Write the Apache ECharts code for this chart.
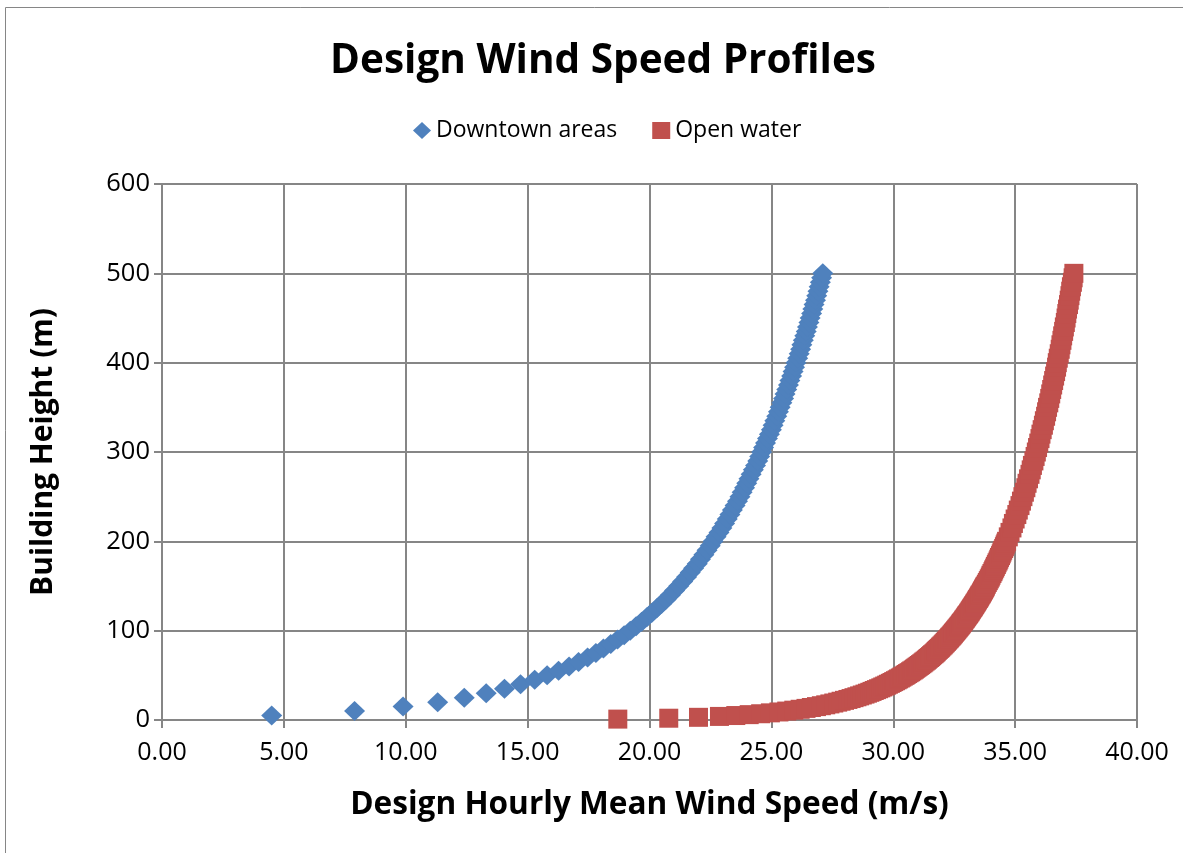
<!DOCTYPE html>
<html>
<head>
<meta charset="utf-8">
<script src="https://cdn.jsdelivr.net/npm/echarts@6/dist/echarts.min.js"></script>
<style>
html,body{margin:0;padding:0;background:#fff;}
#chart{width:1183px;height:853px;}
</style>
</head>
<body>
<div id="chart"></div>
<script>
// Downtown areas: building height (m) and design hourly mean wind speed (m/s)
var downtownHeights = [5,10,15,20,25,30,35,40,45,50,55,60,65,70,75,80,85,90,95,100,
  105,110,115,120,125,130,135,140,145,150,155,160,165,170,175,180,185,190,195,200,
  205,210,215,220,225,230,235,240,245,250,255,260,265,270,275,280,285,290,295,300,
  305,310,315,320,325,330,335,340,345,350,355,360,365,370,375,380,385,390,395,400,
  405,410,415,420,425,430,435,440,445,450,455,460,465,470,475,480,485,490,495,500];
var downtownSpeeds = [4.50,7.90,9.89,11.31,12.40,13.30,14.05,14.71,15.29,15.80,
  16.27,16.70,17.09,17.46,17.80,18.11,18.41,18.69,18.96,19.21,
  19.45,19.68,19.89,20.10,20.30,20.50,20.68,20.86,21.03,21.20,
  21.36,21.52,21.67,21.81,21.96,22.09,22.23,22.36,22.49,22.61,
  22.73,22.85,22.97,23.08,23.19,23.30,23.40,23.51,23.61,23.71,
  23.80,23.90,23.99,24.08,24.17,24.26,24.35,24.44,24.52,24.60,
  24.68,24.76,24.84,24.92,25.00,25.07,25.14,25.22,25.29,25.36,
  25.43,25.50,25.56,25.63,25.70,25.76,25.83,25.89,25.95,26.01,
  26.08,26.14,26.20,26.25,26.31,26.37,26.43,26.48,26.54,26.59,
  26.65,26.70,26.75,26.81,26.86,26.91,26.96,27.01,27.06,27.11];

// Open water
var openWaterHeights = [1,2,3,4,5,6,7,8,9,10,11,12,13,14,15,16,17,18,19,20,
  21,22,23,24,25,26,27,28,29,30,31,32,33,34,35,36,37,38,39,40,
  41,42,43,44,45,46,47,48,49,50,51,52,53,54,55,56,57,58,59,60,
  61,62,63,64,65,66,67,68,69,70,71,72,73,74,75,76,77,78,79,80,
  81,82,83,84,85,86,87,88,89,90,91,92,93,94,95,96,97,98,99,100,
  101,102,103,104,105,106,107,108,109,110,111,112,113,114,115,116,117,118,119,120,
  121,122,123,124,125,126,127,128,129,130,131,132,133,134,135,136,137,138,139,140,
  141,142,143,144,145,146,147,148,149,150,
  152,154,156,158,160,162,164,166,168,170,172,174,176,178,180,
  182,184,186,188,190,192,194,196,198,200,
  205,210,215,220,225,230,235,240,245,250,255,260,265,270,275,280,285,290,295,300,
  305,310,315,320,325,330,335,340,345,350,355,360,365,370,375,380,385,390,395,400,
  405,410,415,420,425,430,435,440,445,450,455,460,465,470,475,480,485,490,495,500];
var openWaterSpeeds = [18.70,20.79,22.01,22.87,23.54,24.09,24.56,24.96,25.31,25.63,
  25.92,26.18,26.42,26.64,26.85,27.05,27.23,27.40,27.56,27.72,
  27.86,28.00,28.14,28.27,28.39,28.51,28.62,28.73,28.84,28.94,
  29.04,29.13,29.22,29.31,29.40,29.49,29.57,29.65,29.73,29.80,
  29.88,29.95,30.02,30.09,30.16,30.22,30.29,30.35,30.41,30.48,
  30.53,30.59,30.65,30.71,30.76,30.82,30.87,30.92,30.97,31.02,
  31.07,31.12,31.17,31.22,31.26,31.31,31.36,31.40,31.44,31.49,
  31.53,31.57,31.61,31.66,31.70,31.74,31.77,31.81,31.85,31.89,
  31.93,31.96,32.00,32.04,32.07,32.11,32.14,32.18,32.21,32.24,
  32.28,32.31,32.34,32.38,32.41,32.44,32.47,32.50,32.53,32.56,
  32.59,32.62,32.65,32.68,32.71,32.74,32.77,32.79,32.82,32.85,
  32.88,32.90,32.93,32.96,32.98,33.01,33.03,33.06,33.09,33.11,
  33.14,33.16,33.18,33.21,33.23,33.26,33.28,33.30,33.33,33.35,
  33.37,33.40,33.42,33.44,33.46,33.49,33.51,33.53,33.55,33.57,
  33.60,33.62,33.64,33.66,33.68,33.70,33.72,33.74,33.76,33.78,
  33.82,33.86,33.90,33.94,33.98,34.01,34.05,34.09,34.12,34.16,34.19,34.23,34.26,34.30,34.33,
  34.36,34.40,34.43,34.46,34.49,34.53,34.56,34.59,34.62,34.65,
  34.72,34.79,34.87,34.93,35.00,35.07,35.13,35.20,35.26,35.32,
  35.38,35.44,35.49,35.55,35.61,35.66,35.71,35.77,35.82,35.87,
  35.92,35.97,36.02,36.06,36.11,36.16,36.20,36.25,36.29,36.33,
  36.38,36.42,36.46,36.50,36.54,36.58,36.62,36.66,36.70,36.73,
  36.77,36.81,36.85,36.88,36.92,36.95,36.99,37.02,37.06,37.09,
  37.12,37.15,37.19,37.22,37.25,37.28,37.31,37.35,37.38,37.41];

var seriesNames = ['Downtown areas', 'Open water'];
var titleText = 'Design Wind Speed Profiles';
var xAxisTitle = 'Design Hourly Mean Wind Speed (m/s)';
var yAxisTitle = 'Building Height (m)';

function pairs(xs, ys) {
  var out = [];
  for (var i = 0; i < xs.length; i++) out.push([xs[i], ys[i]]);
  return out;
}

var FONT = '"Open Sans", "DejaVu Sans", sans-serif';
var GRID = '#868686';

var chart = echarts.init(document.getElementById('chart'), null, {renderer: 'canvas'});
chart.setOption({
  backgroundColor: '#ffffff',
  animation: false,
  graphic: [{
    type: 'rect',
    shape: {x: 5.5, y: 7.5, width: 1300, height: 1000},
    style: {fill: 'none', stroke: '#868686', lineWidth: 1},
    silent: true
  }],
  title: {
    text: titleText,
    left: 325,
    top: 36,
    textStyle: {fontFamily: FONT, fontWeight: 'bold', fontSize: 40.5, color: '#000'}
  },
  legend: {
    data: [
      {name: seriesNames[0], icon: 'diamond'},
      {name: seriesNames[1], icon: 'rect'}
    ],
    top: 114,
    left: 408,
    itemWidth: 18,
    itemHeight: 17,
    itemGap: 35,
    textStyle: {fontFamily: FONT, fontSize: 23, color: '#000'}
  },
  grid: {left: 162, right: 46, top: 184, bottom: 133, containLabel: false},
  xAxis: {
    type: 'value',
    min: 0, max: 40, interval: 5,
    name: xAxisTitle,
    nameLocation: 'middle',
    nameGap: 69,
    nameTextStyle: {fontFamily: FONT, fontWeight: 'bold', fontSize: 31.6, color: '#000'},
    axisLine: {show: true, onZero: false, lineStyle: {color: GRID, width: 2}},
    axisTick: {show: true, inside: false, length: 8, lineStyle: {color: GRID, width: 2}},
    axisLabel: {fontFamily: FONT, fontSize: 25, color: '#000', margin: 20,
      formatter: function (v) { return v.toFixed(2); }},
    splitLine: {show: true, lineStyle: {color: GRID, width: 2}}
  },
  yAxis: {
    type: 'value',
    min: 0, max: 600, interval: 100,
    name: yAxisTitle,
    nameLocation: 'middle',
    nameGap: 104,
    nameTextStyle: {fontFamily: FONT, fontWeight: 'bold', fontSize: 30, color: '#000'},
    axisLine: {show: true, lineStyle: {color: GRID, width: 2}},
    axisTick: {show: true, inside: false, length: 8, lineStyle: {color: GRID, width: 2}},
    axisLabel: {fontFamily: FONT, fontSize: 25.5, color: '#000', margin: 12},
    splitLine: {show: true, lineStyle: {color: GRID, width: 2}}
  },
  series: [
    {
      name: seriesNames[0],
      type: 'scatter',
      symbol: 'diamond',
      symbolSize: [21, 20],
      itemStyle: {color: '#4F81BD', opacity: 1},
      data: pairs(downtownSpeeds, downtownHeights)
    },
    {
      name: seriesNames[1],
      type: 'scatter',
      symbol: 'rect',
      symbolSize: [19, 19],
      itemStyle: {color: '#C0504D', opacity: 1},
      data: pairs(openWaterSpeeds, openWaterHeights)
    }
  ]
});
</script>
</body>
</html>
